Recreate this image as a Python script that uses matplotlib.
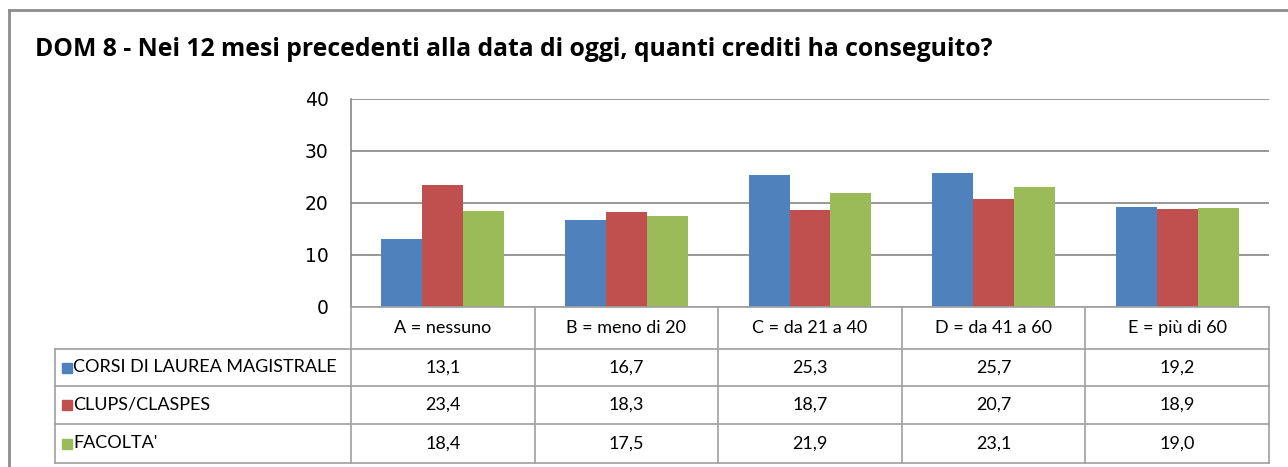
import matplotlib.pyplot as plt
from matplotlib.lines import Line2D
from matplotlib.patches import Rectangle
import numpy as np

# dati
categorie = ["A = nessuno", "B = meno di 20", "C = da 21 a 40", "D = da 41 a 60", "E = più di 60"]
serie = ["CORSI DI LAUREA MAGISTRALE", "CLUPS/CLASPES", "FACOLTA'"]
corsi = [13.1, 16.7, 25.3, 25.7, 19.2]
clups = [23.4, 18.3, 18.7, 20.7, 18.9]
facolta = [18.4, 17.5, 21.9, 23.1, 19.0]
colori = ["#4F81BD", "#C0504D", "#9BBB59"]

W, H = 1288, 467
fig = plt.figure(figsize=(W / 100, H / 100), dpi=100)
fig.patch.set_facecolor("white")

TXT = "Lato"
grigio = "#868686"


def fx(px):
    return px / W


def fy(py):
    return 1 - py / H


# cornice esterna
fig.add_artist(Line2D([fx(9), fx(1288)], [fy(10), fy(10)], color="#8c8c8c", lw=2))
fig.add_artist(Line2D([fx(9), fx(9)], [fy(10), fy(467)], color="#8c8c8c", lw=2))

fig.text(fx(35), fy(50), "DOM 8 - Nei 12 mesi precedenti alla data di oggi, quanti crediti ha conseguito?",
         fontsize=17.8, fontweight="bold", family="Open Sans", ha="left", va="center")

# area del grafico
left, right, top, bottom = 351, 1269, 99, 307
ax = fig.add_axes([fx(left), fy(bottom), fx(right - left), (bottom - top) / H])
n = len(categorie)
x = np.arange(n)
bw = 0.223
for i, (vals, c) in enumerate(zip([corsi, clups, facolta], colori)):
    ax.bar(x + (i - 1) * bw, vals, width=bw, color=c, zorder=3)
ax.set_xlim(-0.5, n - 0.5)
ax.set_ylim(0, 40)
ax.set_yticks([0, 10, 20, 30, 40])
ax.yaxis.grid(True, color=grigio, lw=1.2, zorder=0)
ax.set_xticks([])
for s in ["top", "right", "bottom"]:
    ax.spines[s].set_visible(False)
ax.spines["left"].set_color(grigio)
ax.spines["left"].set_linewidth(1.2)
ax.tick_params(axis="y", length=0, pad=16, labelsize=13.5)

# tabella dati
tab_left = 55
rows_y = [307, 349, 386, 424, 463]
col_w = (right - left) / n
lc = "#a0a0a0"
# bordi orizzontali
fig.add_artist(Line2D([fx(left), fx(right)], [fy(rows_y[0]), fy(rows_y[0])], color=lc, lw=1.2))
for yy in rows_y[1:]:
    fig.add_artist(Line2D([fx(tab_left), fx(right)], [fy(yy), fy(yy)], color=lc, lw=1.2))
# bordi verticali
for j in range(n + 1):
    xx = left + j * col_w
    fig.add_artist(Line2D([fx(xx), fx(xx)], [fy(rows_y[0]), fy(rows_y[-1])], color=lc, lw=1.2))
fig.add_artist(Line2D([fx(tab_left), fx(tab_left)], [fy(rows_y[1]), fy(rows_y[-1])], color=lc, lw=1.2))

tfs = 13
for j, cat in enumerate(categorie):
    fig.text(fx(left + (j + 0.5) * col_w), fy((rows_y[0] + rows_y[1]) / 2), cat,
             fontsize=tfs, family=TXT, ha="center", va="center")
for i, (nome, vals, c) in enumerate(zip(serie, [corsi, clups, facolta], colori)):
    yc = (rows_y[i + 1] + rows_y[i + 2]) / 2
    fig.add_artist(Rectangle((fx(62), fy(yc + 5)), fx(10), 10 / H, color=c))
    fig.text(fx(73), fy(yc), nome, fontsize=tfs, family=TXT, ha="left", va="center")
    for j, v in enumerate(vals):
        fig.text(fx(left + (j + 0.5) * col_w), fy(yc), f"{v:.1f}".replace(".", ","),
                 fontsize=tfs, family=TXT, ha="center", va="center")

fig.savefig("out.png", dpi=100)
